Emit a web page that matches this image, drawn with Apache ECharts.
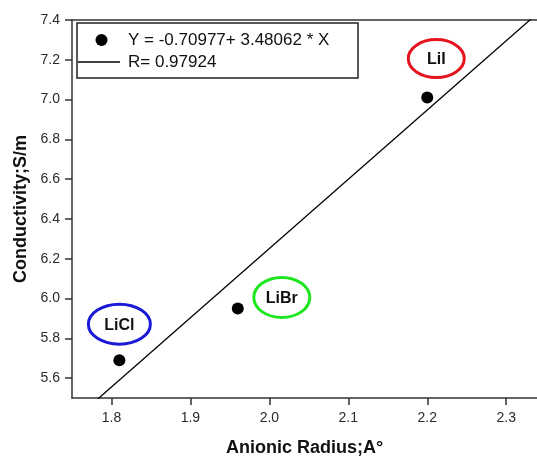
<!DOCTYPE html>
<html>
<head>
<meta charset="utf-8">
<script src="https://cdn.jsdelivr.net/npm/echarts@6/dist/echarts.min.js"></script>
<style>
  html, body { margin: 0; padding: 0; background: #fff; }
  #chart { width: 537px; height: 457px; }
</style>
</head>
<body>
<div id="chart"></div>
<script>
// Lithium halides: anionic radius vs. conductivity
var salts = ['LiCl', 'LiBr', 'LiI'];
var anionicRadius = [1.81, 1.96, 2.20];
var conductivity = [5.69, 5.95, 7.01];
var xTicks = [1.8, 1.9, 2.0, 2.1, 2.2, 2.3];
var yTicks = [5.6, 5.8, 6.0, 6.2, 6.4, 6.6, 6.8, 7.0, 7.2, 7.4];

// Linear fit Y = A + B * X
var fitA = -0.70977;
var fitB = 3.48062;
var fitR = 0.97924;

var X_MIN = 1.75, X_MAX = 2.339, Y_MIN = 5.5, Y_MAX = 7.4;

var points = anionicRadius.map(function (x, i) { return [x, conductivity[i]]; });
// fit line spans the vertical range of the plot
var fitLine = [Y_MIN - 0.05, Y_MAX + 0.05].map(function (y) {
  return [(y - fitA) / fitB, y];
});

var ringStyle = {
  LiCl: { color: '#1a1ad6', dx: 0, dy: -36, rx: 31, ry: 20 },
  LiBr: { color: '#1ee61e', dx: 44, dy: -11, rx: 28, ry: 20 },
  LiI:  { color: '#e6141e', dx: 9,  dy: -39, rx: 28, ry: 19 }
};

var chart = echarts.init(document.getElementById('chart'));
var tickFont = { fontFamily: 'Liberation Sans, Arial, sans-serif', fontSize: 14, color: '#2a2a2a' };
var axisLine = { lineStyle: { color: '#333', width: 1.5 } };

chart.setOption({
  animation: false,
  grid: { left: 72, right: 0, top: 20, bottom: 59, outerBoundsMode: 'none', containLabel: false },
  xAxis: [{
    type: 'value', min: X_MIN, max: X_MAX,
    name: 'Anionic Radius;A°', nameLocation: 'middle', nameGap: 41,
    nameTextStyle: { fontFamily: 'Liberation Sans, Arial, sans-serif', fontSize: 18, fontWeight: 'bold', color: '#111' },
    axisLine: axisLine,
    axisTick: { show: true, length: 7, lineStyle: { color: '#333', width: 1.5 }, customValues: xTicks },
    axisLabel: Object.assign({ customValues: xTicks, margin: 13, formatter: function (v) { return v.toFixed(1); } }, tickFont),
    splitLine: { show: false }
  }, {
    type: 'value', position: 'top', min: X_MIN, max: X_MAX,
    axisLine: axisLine, axisTick: { show: false }, axisLabel: { show: false }, splitLine: { show: false }
  }],
  yAxis: {
    type: 'value', min: Y_MIN, max: Y_MAX,
    name: 'Conductivity;S/m', nameLocation: 'middle', nameGap: 41,
    nameTextStyle: { fontFamily: 'Liberation Sans, Arial, sans-serif', fontSize: 18, fontWeight: 'bold', color: '#111' },
    axisLine: axisLine,
    axisTick: { show: true, length: 7, lineStyle: { color: '#333', width: 1.5 }, customValues: yTicks },
    axisLabel: Object.assign({ customValues: yTicks, margin: 12, formatter: function (v) { return v.toFixed(1); } }, tickFont),
    splitLine: { show: false }
  },
  series: [{
    type: 'line', data: fitLine, symbol: 'none', clip: true,
    lineStyle: { color: '#000', width: 1.3 }, silent: true
  }, {
    type: 'scatter', data: points, symbol: 'circle', symbolSize: 12,
    itemStyle: { color: '#000', opacity: 1 }
  }]
});

// Legend box and salt rings
var font = 'Liberation Sans, Arial, sans-serif';
var graphics = [
  { type: 'rect', shape: { x: 77, y: 23, width: 281, height: 55 },
    style: { fill: '#fff', stroke: '#222', lineWidth: 1.5 } },
  { type: 'circle', shape: { cx: 101.5, cy: 40, r: 6 }, style: { fill: '#000' } },
  { type: 'line', shape: { x1: 78, y1: 62, x2: 120, y2: 62 }, style: { stroke: '#000', lineWidth: 1.3 } },
  { type: 'text', x: 128, y: 40, style: { text: 'Y = ' + fitA + '+ ' + fitB + ' * X', font: '17px ' + font, fill: '#111', verticalAlign: 'middle' } },
  { type: 'text', x: 128, y: 62, style: { text: 'R= ' + fitR, font: '17px ' + font, fill: '#111', verticalAlign: 'middle' } }
];
salts.forEach(function (name, i) {
  var p = chart.convertToPixel({ gridIndex: 0 }, points[i]);
  var s = ringStyle[name];
  var cx = p[0] + s.dx, cy = p[1] + s.dy;
  graphics.push({ type: 'ellipse', shape: { cx: cx, cy: cy, rx: s.rx, ry: s.ry },
    style: { fill: 'none', stroke: s.color, lineWidth: 3 } });
  graphics.push({ type: 'text', x: cx, y: cy + 1, style: { text: name, font: 'bold 16px ' + font,
    fill: '#111', align: 'center', verticalAlign: 'middle' } });
});
chart.setOption({ graphic: graphics });
</script>
</body>
</html>
